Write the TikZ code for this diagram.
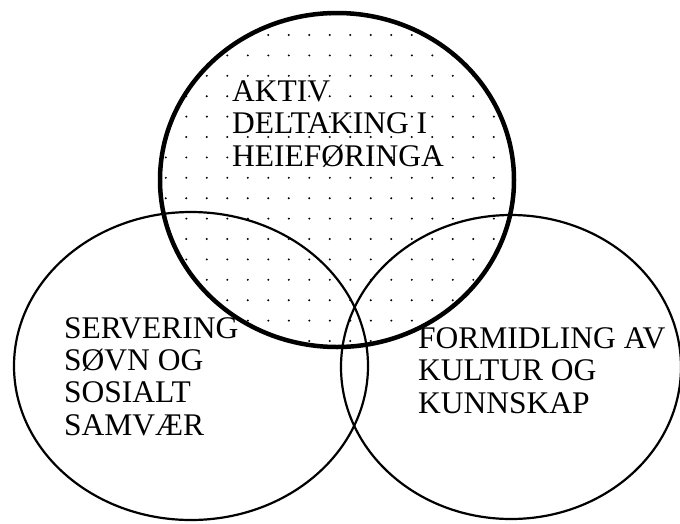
\documentclass[tikz,border=0pt]{standalone}
\usepackage{fontspec}
\setmainfont{Liberation Serif}
\begin{document}
\begin{tikzpicture}[x=1pt,y=-1pt,
  ring/.style={line width=2.2pt},
  topring/.style={line width=4.5pt},
  lbl/.style={font=\fontsize{31.5}{32.2}\selectfont, align=left, anchor=base west, inner sep=0pt},
  dotmark/.style={fill=black}]
\useasboundingbox (0,0) rectangle (680,523);
\coordinate (ctop) at (337,180);
\coordinate (cleft) at (191,366);
\coordinate (cright) at (511,367);
\begin{scope}
  \clip (ctop) ellipse [x radius=177pt, y radius=167pt];
  \foreach \i in {-6,...,13}
    \foreach \j in {-2,...,16}
      \fill[dotmark] (268.3+20.5*\i, 35+20.4*\j) circle[radius=1.1pt];
\end{scope}
\draw[ring] (cleft) ellipse [x radius=177pt, y radius=154pt];
\draw[ring] (cright) ellipse [x radius=170pt, y radius=152pt];
\draw[topring] (ctop) ellipse [x radius=177pt, y radius=167pt];
\node[lbl] (aktiv) at (232,166) {AKTIV\\DELTAKING I\\HEIEFØRINGA};
\node[lbl] (serv) at (64,435) {SERVERING\\SØVN OG\\SOSIALT\\SAMVÆR};
\node[lbl] (form) at (418,413) {FORMIDLING AV\\KULTUR OG\\KUNNSKAP};
\end{tikzpicture}
\end{document}
